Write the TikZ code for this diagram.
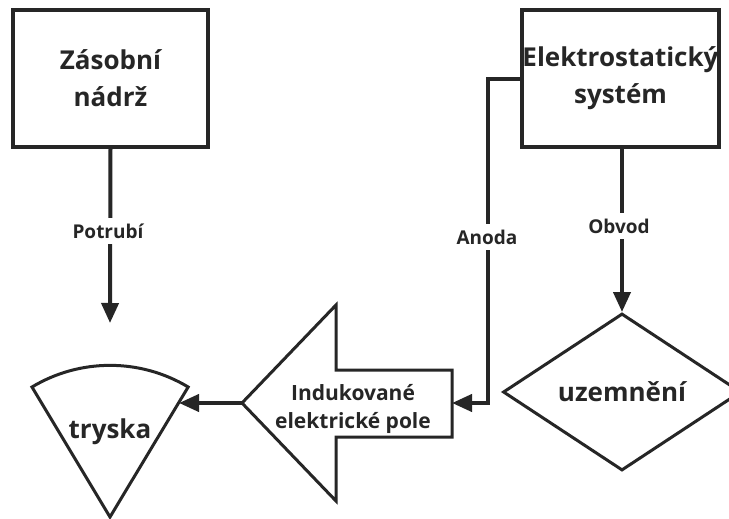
\documentclass[tikz,border=0pt]{standalone}
\usepackage{fontspec}
\setmainfont{Open Sans}
\usetikzlibrary{arrows.meta,shapes.geometric}
\definecolor{ink}{HTML}{262626}
\begin{document}
\begin{tikzpicture}[x=1pt,y=-1pt,
  every node/.style={text=ink,font=\bfseries},
  box/.style={draw=ink,line width=4pt,minimum width=195pt,minimum height=137pt,inner sep=0pt,align=center,font=\bfseries\fontsize{26}{37}\selectfont},
  conn/.style={draw=ink,line width=4pt,-{Triangle[length=20pt,width=17pt]}},
  lbl/.style={fill=white,inner xsep=2pt,inner ysep=6pt,font=\bfseries\fontsize{19}{22}\selectfont},
  outline/.style={draw=ink,line width=3pt,line join=miter},
  big/.style={font=\bfseries\fontsize{26}{30}\selectfont}]
\useasboundingbox[fill=white] (0,0) rectangle (729,519);
% boxes
\node[box] (tank) at (110.5,78.5) {Zásobní\\nádrž};
\node[box] (els) at (620.5,78.5) {Elektrostatický\\systém};
% diamond
\node[outline,diamond,inner sep=0pt,minimum width=238pt,minimum height=157pt,big] (ground) at (622,392) {uzemnění};
% nozzle sector
\coordinate (apex) at (110,517);
\coordinate (nl) at (32,387);
\draw[outline] (apex) -- (nl) arc[start angle=-121,end angle=-59,radius=151.6] -- cycle;
\node[big] (tryska) at (110,432) {tryska};
\coordinate (nozin) at (179,403);
% big arrow
\draw[outline] (242,403) -- (336,305) -- (336,370) -- (452,370) -- (452,437) -- (336,437) -- (336,501) -- cycle;
\coordinate (atip) at (242,403);
\coordinate (atail) at (452,403);
\node[align=center,font=\bfseries\fontsize{21}{28}\selectfont] (field) at (353,409) {Indukované\\elektrické pole};
% connectors
\coordinate (pend) at (110,323);
\draw[conn] (tank.south) -- (pend);
\node[lbl] (potrubi) at (108,231) {Potrubí};
\draw[conn] (els.south -| 622,0) -- (ground.north);
\node[lbl] (obvod) at (619,226) {Obvod};
\coordinate (ela) at (els.west |- 0,79);
\coordinate (b1) at (488,79);
\coordinate (b2) at (488,403);
\draw[conn,line join=miter] (ela) -- (b1) -- (b2) -- (atail);
\node[lbl] (anoda) at (487,237) {Anoda};
\draw[conn] (atip) -- (nozin);
\end{tikzpicture}
\end{document}
